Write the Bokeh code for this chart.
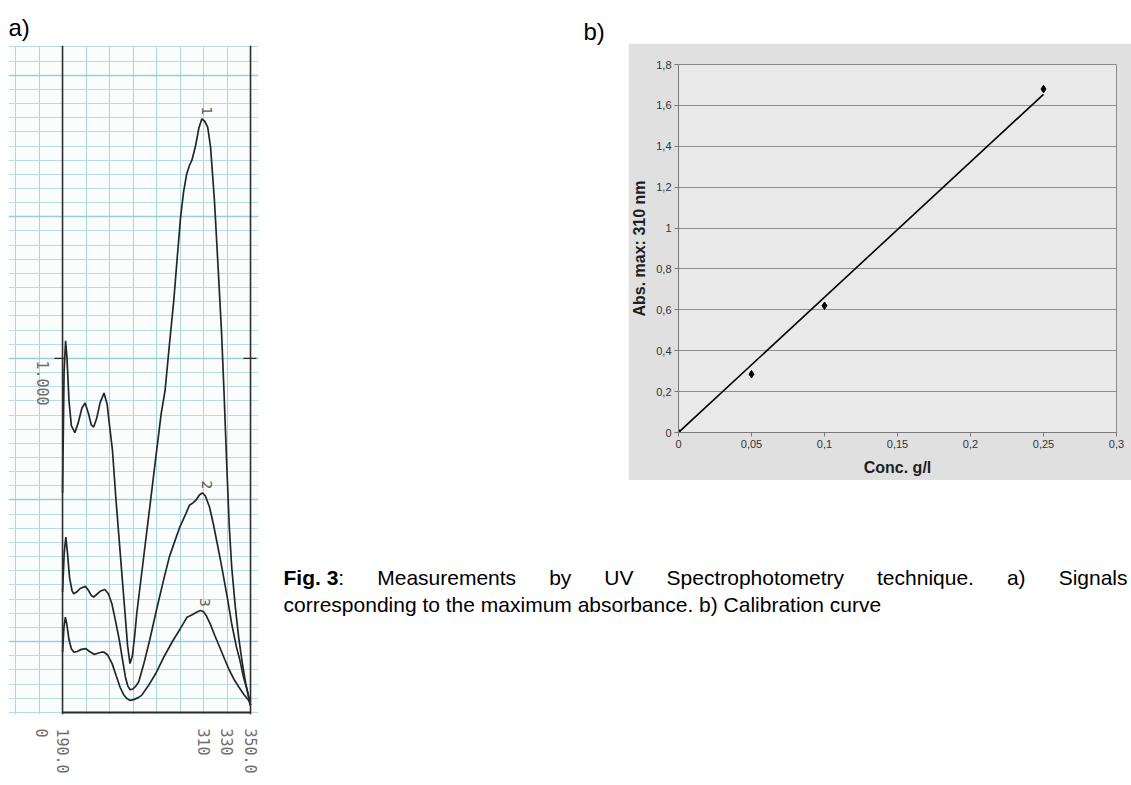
import math
import numpy as np
from bokeh.plotting import figure
from bokeh.layouts import row, column
from bokeh.models import Range1d, FixedTicker, Grid, Span, Label, LinearAxis, Spacer
from bokeh.core.properties import value
from bokeh.embed import file_html
from bokeh.resources import INLINE

# ---------------- panel a) : UV spectra (wavelength nm, absorbance) ----------------
wl_1 = [190.0, 191.3, 192.6, 193.8, 195.5, 197.5, 200.5, 203.5, 206.5, 209.2, 212.0, 214.5, 216.5, 219.0,
        222.0, 225.3, 228.0, 230.0, 232.5, 235.5, 238.7, 241.0, 243.2, 245.3, 247.4, 249.5, 251.5, 253.2,
        258.0, 263.6, 269.0, 274.0, 277.3, 281.0, 284.7, 288.0, 290.5, 293.0, 295.6, 298.0, 300.1, 303.2,
        306.0, 308.6, 311.0, 313.6, 316.0, 319.3, 322.4, 325.4, 327.5, 330.0, 332.0, 334.0, 337.0, 340.0,
        343.0, 346.0, 348.0, 350.0]
abs_1 = [0.62, 0.96, 1.05, 1.00, 0.88, 0.81, 0.79, 0.82, 0.86, 0.874, 0.845, 0.812, 0.806, 0.83,
         0.875, 0.902, 0.87, 0.81, 0.74, 0.60, 0.467, 0.37, 0.28, 0.19, 0.138, 0.16, 0.22, 0.28,
         0.41, 0.562, 0.71, 0.845, 0.91, 1.04, 1.164, 1.30, 1.40, 1.47, 1.52, 1.545, 1.56, 1.60,
         1.65, 1.677, 1.67, 1.653, 1.597, 1.446, 1.258, 1.07, 0.90, 0.68, 0.52, 0.41, 0.30, 0.21,
         0.14, 0.08, 0.05, 0.02]

wl_2 = [190.0, 191.4, 192.8, 194.2, 196.0, 198.0, 199.5, 202.0, 205.0, 209.4, 212.0, 214.5, 216.5, 219.0,
        222.0, 226.0, 229.0, 232.0, 235.0, 238.4, 241.0, 243.5, 245.5, 247.5, 250.0, 252.5, 254.8, 259.0,
        264.1, 270.0, 276.6, 281.0, 285.8, 290.0, 294.9, 298.0, 301.0, 303.7, 306.5, 309.0, 311.5, 315.1,
        318.5, 321.5, 325.0, 330.5, 334.0, 338.0, 341.0, 344.0, 347.0, 350.0]
abs_2 = [0.34, 0.45, 0.495, 0.45, 0.38, 0.345, 0.335, 0.34, 0.35, 0.356, 0.345, 0.33, 0.326, 0.333,
         0.342, 0.347, 0.335, 0.307, 0.26, 0.203, 0.15, 0.10, 0.075, 0.064, 0.066, 0.075, 0.086, 0.135,
         0.203, 0.29, 0.382, 0.44, 0.486, 0.525, 0.561, 0.585, 0.592, 0.60, 0.614, 0.62, 0.612, 0.58,
         0.53, 0.48, 0.42, 0.32, 0.25, 0.185, 0.147, 0.10, 0.065, 0.02]

wl_3 = [190.0, 191.2, 192.4, 193.6, 195.5, 197.5, 199.7, 202.5, 206.0, 209.8, 213.0, 216.8, 220.0, 223.0,
        225.3, 228.5, 232.3, 235.5, 239.0, 242.0, 244.5, 247.3, 250.5, 254.0, 257.3, 263.0, 269.2, 276.0,
        284.0, 290.0, 296.0, 300.0, 304.0, 307.4, 310.0, 312.5, 315.7, 319.5, 323.8, 328.0, 332.0, 336.0,
        340.2, 344.5, 348.5, 350.0]
abs_3 = [0.17, 0.24, 0.269, 0.25, 0.205, 0.18, 0.17, 0.172, 0.178, 0.18, 0.172, 0.164, 0.167, 0.17,
         0.17, 0.162, 0.137, 0.105, 0.071, 0.05, 0.04, 0.034, 0.036, 0.041, 0.048, 0.075, 0.109, 0.155,
         0.203, 0.235, 0.269, 0.275, 0.283, 0.288, 0.284, 0.272, 0.25, 0.218, 0.184, 0.15, 0.119, 0.093,
         0.071, 0.05, 0.034, 0.02]

curve_names = ["1", "2", "3"]
spec_tick_values = [190, 310, 330, 350]
spec_tick_labels = ["190.0", "310", "330", "350.0"]
abs_zero_label = "0"
abs_one_label = "1.000"

# ---------------- panel b) : calibration curve ----------------
conc = [0, 0.05, 0.1, 0.25]
abs_max = [0, 0.285, 0.62, 1.68]
x_ticks = [0, 0.05, 0.1, 0.15, 0.2, 0.25, 0.3]
x_tick_labels = ["0", "0,05", "0,1", "0,15", "0,2", "0,25", "0,3"]
y_ticks = [0, 0.2, 0.4, 0.6, 0.8, 1, 1.2, 1.4, 1.6, 1.8]
y_tick_labels = ["0", "0,2", "0,4", "0,6", "0,8", "1", "1,2", "1,4", "1,6", "1,8"]

# ---------------- caption ----------------
caption_bold = "Fig. 3"
caption_line1_words = [":", "Measurements", "by", "UV", "Spectrophotometry", "technique.", "a)", "Signals"]
caption_line2 = "corresponding to the maximum absorbance. b) Calibration curve"

SANS = "Liberation Sans"
MONO = "DejaVu Sans Mono"

# ======================= panel a =======================
FRAME = (190, 350)
WL_LO, WL_HI = 144.0, 356.8
PX_PER_NM = 250 / (WL_HI - WL_LO)
A_LO, A_HI = -0.006, 1.884
pa = figure(width=270, height=785, x_range=Range1d(WL_LO, WL_HI), y_range=Range1d(A_LO, A_HI),
            x_axis_type=None, y_axis_type=None, toolbar_location=None, output_backend="svg",
            min_border_left=8, min_border_right=12, min_border_top=45, min_border_bottom=71,
            background_fill_color="#fbfdfd", border_fill_color="white", outline_line_color=None)
pa.title.text = "a)"
pa.title.text_font = SANS
pa.title.text_font_size = "24px"
pa.title.text_font_style = "normal"
pa.title.text_color = "black"
pa.title.offset = 0
pa.title.standoff = 10

v_ticks = list(range(150, 351, 20))
h_ticks = [round(0.04 * k, 2) for k in range(48)]
h_major = [0.2, 0.6, 1.0, 1.4, 1.8]
pa.add_layout(Grid(dimension=0, ticker=FixedTicker(ticks=v_ticks), grid_line_color="#a9d5e0", grid_line_width=1))
pa.add_layout(Grid(dimension=1, ticker=FixedTicker(ticks=h_ticks), grid_line_color="#b7dce5", grid_line_width=1))
pa.add_layout(Grid(dimension=1, ticker=FixedTicker(ticks=h_major), grid_line_color="#9accd9", grid_line_width=1.3))

for f in FRAME:
    pa.add_layout(Span(location=f, dimension="height", line_color="#2e2e2e", line_width=1.6))
# baseline of the recorder chart and the 1.000 ticks
pa.segment(x0=[FRAME[0]], x1=[FRAME[1]], y0=[0], y1=[0], line_color="#2a2a2a", line_width=2)
pa.segment(x0=[FRAME[0] - 7, FRAME[1] - 6], x1=[FRAME[0] + 2, FRAME[1] + 5], y0=[1, 1], y1=[1, 1],
           line_color="#2e2e2e", line_width=1.4)

zero_pos = FRAME[0] - 21 / PX_PER_NM
ticks_all = [zero_pos] + spec_tick_values
labels_all = [abs_zero_label] + spec_tick_labels
ax = LinearAxis(ticker=FixedTicker(ticks=ticks_all),
                major_label_overrides={v: t for v, t in zip(ticks_all, labels_all)},
                major_label_orientation=-math.pi / 2, axis_line_color=None,
                major_tick_line_color=None, minor_tick_line_color=None,
                major_label_text_font=MONO, major_label_text_font_size="15px",
                major_label_text_color="#6e6e6e", major_label_standoff=8)
pa.add_layout(ax, "below")

pa.add_layout(Label(x=FRAME[0], y=1, x_offset=-20, y_offset=-2, text=abs_one_label,
                    angle=-math.pi / 2, text_align="left", text_baseline="middle",
                    text_font=MONO, text_font_size="15px", text_color="#6e6e6e"))

lab_x, lab_y = [], []
for wl, ab in [(wl_1, abs_1), (wl_2, abs_2), (wl_3, abs_3)]:
    pa.line(wl, ab, line_color="#262626", line_width=1.7)
    i = int(np.argmax(np.where(np.array(wl) > 260, ab, 0)))
    lab_x.append(wl[i] + 4)
    lab_y.append(ab[i] + 0.035)
pa.text(x=lab_x, y=lab_y, text=curve_names, angle=-math.pi / 2, text_align="left", text_baseline="middle",
        text_font=value("DejaVu Sans"), text_font_size="14px", text_color="#5a5a5a")

# ======================= "b)" header =======================
pb_head = figure(width=358, height=480, x_range=Range1d(0, 358), y_range=Range1d(480, 0),
                 x_axis_type=None, y_axis_type=None, toolbar_location=None, output_backend="svg",
                 min_border=0, outline_line_color=None, background_fill_color="white",
                 border_fill_color="white")
pb_head.text(x=[313], y=[31], text=["b)"], text_font=value(SANS), text_font_size="24px",
             text_color="black", text_baseline="alphabetic", text_align="left")

# ======================= panel b =======================
pb = figure(width=503, height=437, x_range=Range1d(0, 0.3), y_range=Range1d(0, 1.8),
            toolbar_location=None, output_backend="svg",
            min_border_left=50, min_border_right=15, min_border_top=21, min_border_bottom=48,
            background_fill_color="#e9e9e9", border_fill_color="#e0e0e0", outline_line_color="#8a8a8a")
pb.xaxis.ticker = FixedTicker(ticks=x_ticks)
pb.xaxis.major_label_overrides = dict(zip(x_ticks, x_tick_labels))
pb.yaxis.ticker = FixedTicker(ticks=y_ticks)
pb.yaxis.major_label_overrides = dict(zip(y_ticks, y_tick_labels))
pb.xaxis.axis_label = "Conc. g/l"
pb.yaxis.axis_label = "Abs. max: 310 nm"
for a in (pb.xaxis[0], pb.yaxis[0]):
    a.axis_line_color = "#7a7a7a"
    a.major_tick_line_color = "#7a7a7a"
    a.major_tick_out = 4
    a.major_tick_in = 0
    a.minor_tick_line_color = None
    a.major_label_text_font = SANS
    a.major_label_text_font_size = "11px"
    a.major_label_text_color = "#333333"
    a.major_label_standoff = 3
    a.axis_label_text_font = SANS
    a.axis_label_text_font_size = "16px"
    a.axis_label_text_font_style = "bold"
    a.axis_label_text_color = "#1e1e1e"
pb.xaxis.axis_label_standoff = 8
pb.yaxis.axis_label_standoff = 5
pb.xgrid.visible = False
pb.ygrid.ticker = FixedTicker(ticks=y_ticks)
pb.ygrid.grid_line_color = "#8e8e8e"
pb.ygrid.grid_line_width = 1

slope = float(np.dot(conc, abs_max) / np.dot(conc, conc))
fit_x = [min(conc), max(conc)]
pb.line(fit_x, [slope * x for x in fit_x], line_color="black", line_width=1.6)
pb.scatter(conc, abs_max, marker="diamond", size=7.5, color="black")

# ======================= caption =======================
CAP_SIZE = 21
AR = {' ': 278, '.': 278, ':': 278, ')': 333, '3': 556, 'C': 722, 'F': 611, 'M': 833, 'S': 667, 'U': 722,
      'V': 667, 'a': 556, 'b': 556, 'c': 500, 'd': 556, 'e': 556, 'g': 556, 'h': 556, 'i': 222, 'l': 222,
      'm': 833, 'n': 556, 'o': 556, 'p': 556, 'q': 556, 'r': 333, 's': 500, 't': 278, 'u': 556, 'v': 500,
      'x': 500, 'y': 500}
ARB = {'F': 611, 'i': 278, 'g': 611, '.': 278, ' ': 278, '3': 556}


def tw(s, table):
    return sum(table.get(c, 556) for c in s) / 1000.0 * CAP_SIZE


CAP_W, CAP_H = 861, 305
cap = figure(width=CAP_W, height=CAP_H, x_range=Range1d(0, CAP_W), y_range=Range1d(CAP_H, 0),
             x_axis_type=None, y_axis_type=None, toolbar_location=None, output_backend="svg",
             min_border=0, outline_line_color=None, background_fill_color="white", border_fill_color="white")
X0, END = 13, CAP_W - 4
LINE1, LINE2 = 97, 124
bold_w = tw(caption_bold, ARB)
words_w = [tw(w, AR) for w in caption_line1_words]
gap = (END - X0 - bold_w - sum(words_w)) / (len(caption_line1_words) - 1)
xs = [X0 + bold_w]
x = X0 + bold_w + words_w[0] + gap
for w in words_w[1:]:
    xs.append(x)
    x += w + gap
cap.text(x=[X0], y=[LINE1], text=[caption_bold], text_font=value(SANS), text_font_size=f"{CAP_SIZE}px",
         text_font_style="bold", text_color="black", text_baseline="alphabetic", text_align="left")
cap.text(x=xs, y=[LINE1] * len(xs), text=caption_line1_words, text_font=value(SANS),
         text_font_size=f"{CAP_SIZE}px", text_color="black", text_baseline="alphabetic", text_align="left")
cap.text(x=[X0], y=[LINE2], text=[caption_line2], text_font=value(SANS), text_font_size=f"{CAP_SIZE}px",
         text_color="black", text_baseline="alphabetic", text_align="left")

layout = row(pa, column(row(pb_head, column(Spacer(width=503, height=43), pb)), cap))

open("out.html", "w").write(file_html(layout, INLINE, "Fig. 3"))
